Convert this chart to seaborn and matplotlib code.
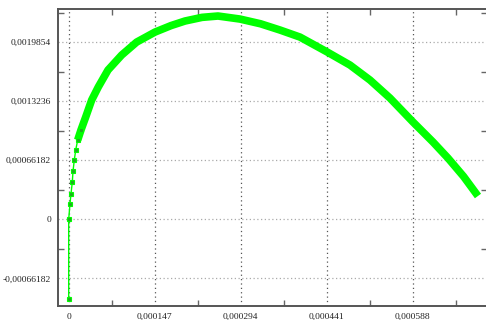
import numpy as np
import pandas as pd
import seaborn as sns
import matplotlib.pyplot as plt
from matplotlib.ticker import FixedLocator, FixedFormatter

# punkty
x_start = [0.0, 0.0, 2.2e-6, 3.9e-6, 6.2e-6, 7.4e-6, 9.6e-6, 1.20e-5, 1.54e-5, 2.10e-5]
y_start = [-0.000893, 0.0, 0.000171, 0.000283, 0.000418, 0.000541, 0.000664, 0.000776, 0.000888, 0.001000]

x_curve = [1.54e-5, 2.10e-5, 2.91e-5, 3.93e-5, 5.06e-5, 6.72e-5, 9.06e-5, 0.0001162, 0.0001475, 0.000175,
           0.0001988, 0.000228, 0.0002552, 0.0002928, 0.000328, 0.0003612, 0.0003954, 0.000441,
           0.0004808, 0.000515, 0.0005492, 0.0005885, 0.0006227, 0.0006483, 0.000675, 0.0006996]
y_curve = [0.000888, 0.001000, 0.001146, 0.001336, 0.001482, 0.001672, 0.001840, 0.001985, 0.002097, 0.002170,
           0.002221, 0.002262, 0.002277, 0.002243, 0.002190, 0.002120, 0.002041, 0.001877,
           0.001728, 0.001560, 0.001358, 0.001090, 0.000866, 0.000686, 0.000480, 0.000261]

xticks = [0, 0.000147, 0.000294, 0.000441, 0.000588]
xlabels = ['0', '0,000147', '0,000294', '0,000441', '0,000588']
yticks = [-0.00066182, 0, 0.00066182, 0.0013236, 0.0019854]
ylabels = ['-0,00066182', '0', '0,00066182', '0,0013236', '0,0019854']

sns.set_style("white")
plt.rcParams['font.family'] = ['Liberation Serif', 'DejaVu Serif']

f = plt.figure(figsize=(4.86, 3.2), dpi=100)
ax = f.add_axes([0.1193, 0.0437, 0.8827, 0.928])

start = pd.DataFrame({'x': x_start, 'y': y_start})
curve = pd.DataFrame({'x': x_curve, 'y': y_curve})

sns.lineplot(data=curve, x='x', y='y', sort=False, estimator=None, color='#00ff00', lw=5.5,
             solid_capstyle='butt', solid_joinstyle='round', ax=ax)
sns.lineplot(data=start, x='x', y='y', sort=False, estimator=None, color='#00ff00', lw=1.0,
             marker='s', markersize=3.5, markerfacecolor='#22aa22',
             markeredgecolor='#00ff00', markeredgewidth=0.8, ax=ax)

ax.set_xlim(-1.83e-5, 0.000715)
ax.set_ylim(-0.000971, 0.002355)

ax.xaxis.set_major_locator(FixedLocator(xticks))
ax.xaxis.set_major_formatter(FixedFormatter(xlabels))
ax.yaxis.set_major_locator(FixedLocator(yticks))
ax.yaxis.set_major_formatter(FixedFormatter(ylabels))
xminor = [t + 0.000147 / 2 for t in xticks]
yminor = [t + 0.00066182 / 2 for t in [-0.00066182 * 2] + yticks]
ax.xaxis.set_minor_locator(FixedLocator(xminor))
ax.yaxis.set_minor_locator(FixedLocator(yminor))

ax.tick_params(which='major', length=0, pad=5, labelsize=6.8, labelcolor='#222222')
ax.tick_params(which='minor', direction='in', length=4, width=1, color='#666666',
               top=True, bottom=True, left=True, right=True)

ax.grid(True, which='major', axis='x', linestyle=(0, (1, 2.5)), color='#555555', lw=0.9)
ax.grid(True, which='major', axis='y', linestyle=(0, (1, 2)), color='#aaaaaa', lw=0.9)

for s in ['left', 'top', 'bottom']:
    ax.spines[s].set_color('#555555')
    ax.spines[s].set_linewidth(1.4)
ax.spines['right'].set_visible(False)

ax.set(xlabel=None)
ax.set(ylabel=None)

f.savefig('out.png', dpi=100)
